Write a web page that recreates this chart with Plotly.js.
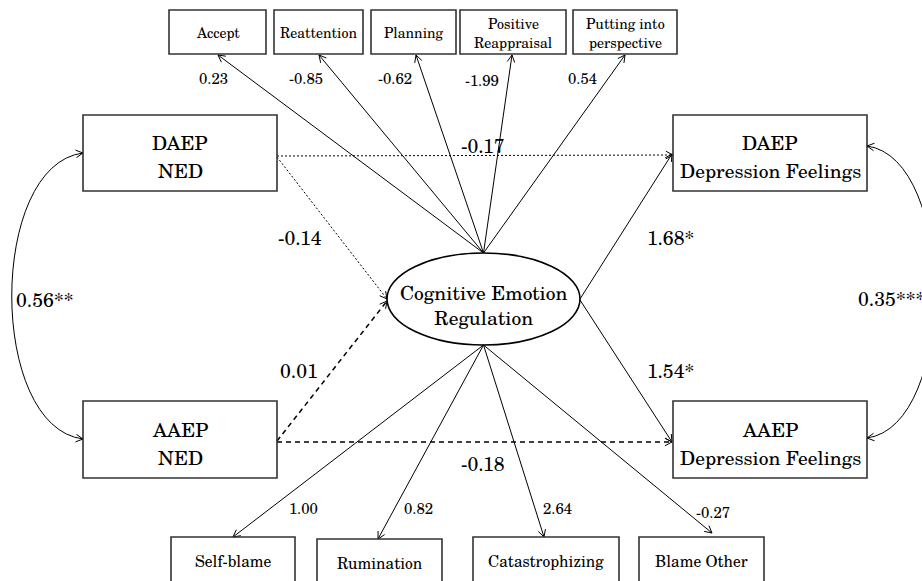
<!DOCTYPE html>
<html><head><meta charset="utf-8">
<script src="https://cdn.plot.ly/plotly-3.0.1.min.js"></script>
<style>html,body{margin:0;padding:0;background:#fff}#chart{width:922px;height:581px}</style>
</head><body><div id="chart"></div>
<script>
// ---------------- DATA ----------------
const topIndicators = [["Accept"],["Reattention"],["Planning"],["Positive","Reappraisal"],["Putting into","perspective"]];
const topLoadings = [0.23, -0.85, -0.62, -1.99, 0.54];
const bottomIndicators = [["Self-blame"],["Rumination"],["Catastrophizing"],["Blame Other"]];
const bottomLoadings = [1.00, 0.82, 2.64, -0.27];
const predictorLabels = [["DAEP","NED"],["AAEP","NED"]];
const outcomeLabels = [["DAEP","Depression Feelings"],["AAEP","Depression Feelings"]];
const mediatorLabel = ["Cognitive Emotion","Regulation"];
const pathNames = ["DAEP NED -> DAEP Depression","DAEP NED -> CER","AAEP NED -> CER","AAEP NED -> AAEP Depression","CER -> DAEP Depression","CER -> AAEP Depression"];
const pathCoefs = [-0.17, -0.14, 0.01, -0.18, 1.68, 1.54];
const pathStars = ["", "", "", "", "*", "*"];
const covNames = ["DAEP NED <-> AAEP NED","DAEP Depression <-> AAEP Depression"];
const covCoefs = [0.56, 0.35];
const covStars = ["**", "***"];

// ---------------- GEOMETRY (layout only) ----------------
const W = 922, H = 581;
const FONT = "TeX Gyre Schola, Liberation Serif, serif";
const G = {
  top: {x0:[169,274,371,460,573], x1:[266,363,456,566,677], y0:10, y1:54,
        tipX:[218,319,416,512,625], labX:[213,306,395,482,582], labY:[78,78,78,80,78]},
  bot: {x0:[171,317,473,639], x1:[295,442,619,764], y0:[537,539,537,537], y1:[583,583,583,583],
        tipX:[233,378,544,712], tipY:[537,539,537,533], labX:[303,418,557,713], labY:[508,508,508,512]},
  pred: {x0:83, x1:277, y0:[115,401], y1:[191,478]},
  out: {x0:673, x1:867, y0:[115,401], y1:[191,478]},
  med: {x0:387, x1:580, y0:253, y1:345},
  paths: [
    {a:[277,156], b:[673,155], dash:"2px,2px", w:1, lab:[483,145]},
    {a:[277,157], b:[387,299], dash:"2px,2px", w:1, lab:[300,237]},
    {a:[277,441], b:[387,301], dash:"5px,4px", w:1.5, lab:[299,370]},
    {a:[277,442], b:[672,442], dash:"5px,4px", w:1.5, lab:[483,463]},
    {a:[580,299], b:[672,154], dash:"solid", w:1, lab:[670,237]},
    {a:[580,300], b:[672,442], dash:"solid", w:1, lab:[670,370]}
  ],
  covs: [
    {path:"M 83 153 C -12 165, -12 427, 83 439", tips:[[83,153,95,-12],[83,439,95,12]], lab:[14,299], anchor:"left"},
    {path:"M 867 146 C 957 158, 957 426, 867 438", tips:[[867,146,-90,-12],[867,438,-90,12]], lab:[856,298], anchor:"left"}
  ]
};
const SZ = {big:19.5, topBox:14, botBox:15.5, smallCoef:15, coef:19.5};

const traces = [];
const shapes = [];
const annotations = [];

function txt(x, y, t, size, anchor) {
  annotations.push({x:x, y:y, xref:"x", yref:"y", text:t, showarrow:false,
    xanchor:anchor||"center", yanchor:"middle", font:{family:FONT, size:size, color:"#000"}});
}
function multiline(cx, cy, lines, size, gap) {
  const n = lines.length;
  lines.forEach((l, i) => txt(cx, cy + (i - (n-1)/2) * gap, l, size));
}
function rect(x0, y0, x1, y1) {
  shapes.push({type:"rect", xref:"x", yref:"y", x0:x0, y0:y0, x1:x1, y1:y1,
    line:{color:"#333", width:1.6}, fillcolor:"rgba(0,0,0,0)"});
}
function head(tx, ty, dx, dy, w) {
  const len = Math.hypot(dx, dy); const ux = dx/len, uy = dy/len;
  const L = 8, ang = 28 * Math.PI/180;
  const c = Math.cos(ang), s = Math.sin(ang);
  const r1 = [ux*c - uy*s, ux*s + uy*c], r2 = [ux*c + uy*s, -ux*s + uy*c];
  traces.push({type:"scatter", mode:"lines", hoverinfo:"skip", showlegend:false,
    x:[tx - L*r1[0], tx, tx - L*r2[0]], y:[ty - L*r1[1], ty, ty - L*r2[1]],
    line:{color:"#000", width:w||1}});
}
function arrow(a, b, dash, w) {
  traces.push({type:"scatter", mode:"lines", hoverinfo:"skip", showlegend:false,
    x:[a[0], b[0]], y:[a[1], b[1]], line:{color:"#000", width:w, dash:dash}});
  head(b[0], b[1], b[0]-a[0], b[1]-a[1], 1);
}
const fmt = v => v.toFixed(2);

// mediator ellipse
const M = G.med;
shapes.push({type:"circle", xref:"x", yref:"y", x0:M.x0, y0:M.y0, x1:M.x1, y1:M.y1,
  line:{color:"#000", width:1.6}, fillcolor:"rgba(0,0,0,0)"});
txt((M.x0+M.x1)/2, 304, mediatorLabel.join("<br>"), SZ.big);
const mcx = (M.x0+M.x1)/2;

// top indicators
topIndicators.forEach((lab, i) => {
  const T = G.top;
  rect(T.x0[i], T.y0, T.x1[i], T.y1);
  multiline((T.x0[i]+T.x1[i])/2, lab.length > 1 ? 33 : 32, lab, SZ.topBox, 19);
  arrow([mcx, M.y0], [T.tipX[i], T.y1+1], "solid", 1);
  txt(T.labX[i], T.labY[i], fmt(topLoadings[i]), SZ.smallCoef);
});

// bottom indicators
bottomIndicators.forEach((lab, i) => {
  const B = G.bot;
  rect(B.x0[i], B.y0[i], B.x1[i], B.y1[i]);
  multiline((B.x0[i]+B.x1[i])/2, B.y0[i] + 23, lab, SZ.botBox, 20);
  arrow([mcx, M.y1], [B.tipX[i], B.tipY[i]], "solid", 1);
  txt(B.labX[i], B.labY[i], fmt(bottomLoadings[i]), SZ.smallCoef);
});

// predictors & outcomes
predictorLabels.forEach((lab, i) => {
  const P = G.pred;
  rect(P.x0, P.y0[i], P.x1, P.y1[i]);
  multiline((P.x0+P.x1)/2, (P.y0[i]+P.y1[i])/2 + 3, lab, SZ.big, 28);
});
outcomeLabels.forEach((lab, i) => {
  const O = G.out;
  rect(O.x0, O.y0[i], O.x1, O.y1[i]);
  multiline((O.x0+O.x1)/2, (O.y0[i]+O.y1[i])/2 + 3, lab, SZ.big, 28);
});

// structural paths
pathCoefs.forEach((c, i) => {
  const p = G.paths[i];
  arrow(p.a, p.b, p.dash, p.w);
  txt(p.lab[0], p.lab[1], fmt(c) + pathStars[i], SZ.coef);
});

// covariances
covCoefs.forEach((c, i) => {
  const cv = G.covs[i];
  shapes.push({type:"path", xref:"x", yref:"y", path:cv.path, line:{color:"#000", width:1}});
  cv.tips.forEach(t => head(t[0], t[1], t[2], t[3], 1));
  txt(cv.lab[0], cv.lab[1], fmt(c) + covStars[i], SZ.coef, cv.anchor);
});

const layout = {
  width:W, height:H, margin:{l:0, r:0, t:0, b:0},
  paper_bgcolor:"#fff", plot_bgcolor:"#fff", showlegend:false,
  xaxis:{range:[0, W], visible:false, fixedrange:true},
  yaxis:{range:[H, 0], visible:false, fixedrange:true},
  shapes:shapes, annotations:annotations
};
Plotly.newPlot("chart", traces, layout, {staticPlot:true, displayModeBar:false});
</script></body></html>
